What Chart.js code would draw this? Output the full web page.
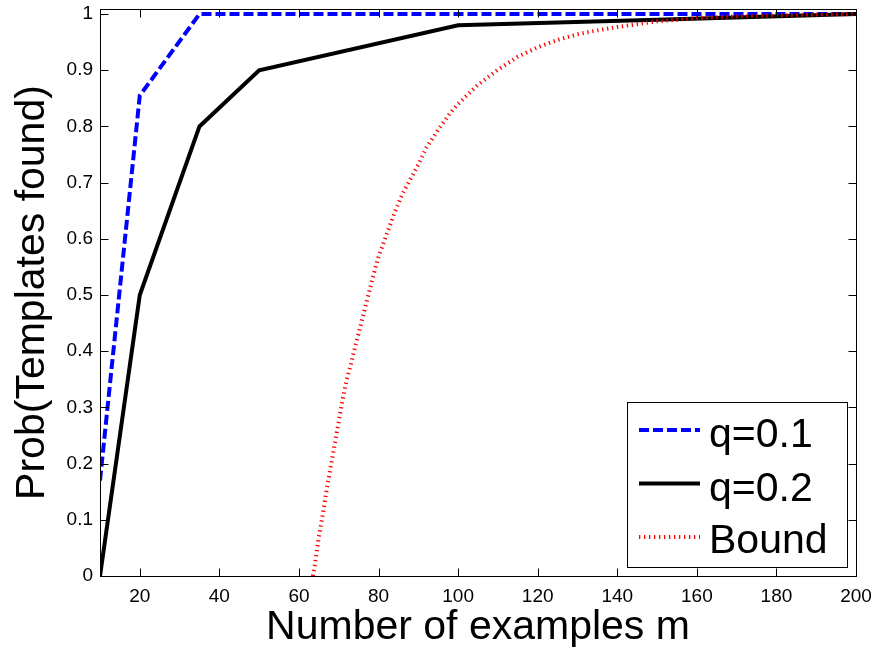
<!DOCTYPE html>
<html><head><meta charset="utf-8">
<script src="https://cdn.jsdelivr.net/npm/chart.js@4.4.0/dist/chart.umd.min.js"></script>
<style>html,body{margin:0;padding:0;background:#fff;overflow:hidden}#wrap{width:875px;height:657px}</style>
</head><body><div id="wrap"><canvas id="c" width="875" height="657"></canvas></div>
<script>
const xTicks = [20, 40, 60, 80, 100, 120, 140, 160, 180, 200];
const yTicks = [0, 0.1, 0.2, 0.3, 0.4, 0.5, 0.6, 0.7, 0.8, 0.9, 1];
const yTickLabels = ['0', '0.1', '0.2', '0.3', '0.4', '0.5', '0.6', '0.7', '0.8', '0.9', '1'];
const seriesNames = ['q=0.1', 'q=0.2', 'Bound'];
const xTitle = 'Number of examples m';
const yTitle = 'Prob(Templates found)';

const mQ1 = [10, 20, 35, 50, 100, 150, 200];
const pQ1 = [0.17, 0.855, 1, 1, 1, 1, 1];
const mQ2 = [10, 20, 35, 50, 100, 150, 200];
const pQ2 = [0, 0.5, 0.8, 0.9, 0.98, 0.99, 1.0];
const mBound = [63.5, 64, 65, 66, 67, 68, 69, 70, 71, 72, 73, 74, 75, 76, 77, 78, 79, 80, 82, 84, 86, 88, 90, 92, 95, 98, 100, 102, 105, 110, 115, 120, 125, 130, 135, 140, 145, 150, 155, 160, 170, 180, 190, 200];
const pBound = [0, 0.02, 0.07, 0.11, 0.155, 0.195, 0.235, 0.275, 0.315, 0.35, 0.375, 0.405, 0.432, 0.46, 0.488, 0.515, 0.543, 0.568, 0.607, 0.646, 0.68, 0.706, 0.732, 0.762, 0.794, 0.824, 0.84, 0.854, 0.874, 0.901, 0.924, 0.941, 0.954, 0.964, 0.971, 0.977, 0.982, 0.987, 0.99, 0.993, 0.996, 0.998, 0.999, 1.0];

const FONT = 'Liberation Sans, Arial, sans-serif';
const toXY = (xs, ys) => xs.map((x, i) => ({x: x, y: ys[i]}));

const framePlugin = {
  id: 'frame',
  afterDatasetsDraw(chart) {
    const {ctx, chartArea: a, scales: {x, y}} = chart;
    ctx.save();
    ctx.strokeStyle = '#000';
    ctx.lineWidth = 1;
    const L = Math.round(a.left) + 0.5, R = Math.round(a.right) + 0.5;
    const T = Math.round(a.top) + 0.5, B = Math.round(a.bottom) + 0.5;
    ctx.strokeRect(L, T, R - L, B - T);
    const tl = 8;
    ctx.beginPath();
    xTicks.forEach(v => {
      const px = Math.round(x.getPixelForValue(v)) + 0.5;
      ctx.moveTo(px, B); ctx.lineTo(px, B - tl);
      ctx.moveTo(px, T); ctx.lineTo(px, T + tl);
    });
    yTicks.forEach(v => {
      const py = Math.round(y.getPixelForValue(v)) + 0.5;
      ctx.moveTo(L, py); ctx.lineTo(L + tl, py);
      ctx.moveTo(R, py); ctx.lineTo(R - tl, py);
    });
    ctx.stroke();
    ctx.restore();
  }
};

const legendPlugin = {
  id: 'boxLegend',
  afterDraw(chart) {
    const {ctx} = chart;
    const bx = 627.5, by = 402.5, bw = 220, bh = 165;
    ctx.save();
    ctx.fillStyle = '#fff';
    ctx.fillRect(bx, by, bw, bh);
    ctx.strokeStyle = '#000';
    ctx.lineWidth = 1;
    ctx.strokeRect(bx, by, bw, bh);
    const rows = [430, 483.5, 537];
    const baselines = [447, 501, 553];
    chart.data.datasets.forEach((ds, i) => {
      ctx.beginPath();
      ctx.strokeStyle = ds.borderColor;
      ctx.lineWidth = ds.borderWidth;
      ctx.setLineDash(ds.borderDash || []);
      ctx.lineCap = 'butt';
      ctx.moveTo(639, rows[i]);
      ctx.lineTo(700, rows[i]);
      ctx.stroke();
      ctx.setLineDash([]);
      ctx.fillStyle = '#000';
      ctx.font = '41px ' + FONT;
      ctx.textBaseline = 'alphabetic';
      ctx.textAlign = 'left';
      ctx.fillText(ds.label, 709, baselines[i]);
    });
    ctx.restore();
  }
};

new Chart(document.getElementById('c'), {
  type: 'line',
  data: {
    datasets: [
      {label: seriesNames[0], data: toXY(mQ1, pQ1), borderColor: '#0000ff', borderWidth: 4, borderDash: [10, 4], pointRadius: 0, fill: false, tension: 0, order: 3},
      {label: seriesNames[1], data: toXY(mQ2, pQ2), borderColor: '#000000', borderWidth: 4, pointRadius: 0, fill: false, tension: 0, order: 2},
      {label: seriesNames[2], data: toXY(mBound, pBound), borderColor: '#ff0000', borderWidth: 4, borderDash: [1.3, 3.7], pointRadius: 0, fill: false, tension: 0, order: 1}
    ]
  },
  options: {
    responsive: false,
    animation: false,
    devicePixelRatio: 1,
    layout: {padding: {top: 9, right: 19, left: 0, bottom: 0}},
    plugins: {legend: {display: false}, tooltip: {enabled: false}},
    scales: {
      x: {
        type: 'linear', min: 10, max: 200,
        afterBuildTicks: s => { s.ticks = xTicks.map(v => ({value: v})); },
        afterFit: s => { s.height = 81; s.paddingLeft = 0; s.paddingRight = 0; },
        grid: {display: false, drawTicks: false},
        border: {display: false},
        ticks: {color: '#000', font: {family: FONT, size: 19}, padding: 9, autoSkip: false, maxRotation: 0,
          callback: (v) => String(v)},
        title: {display: true, text: xTitle, color: '#000', font: {family: FONT, size: 41}, padding: {top: 0, bottom: 5}}
      },
      y: {
        type: 'linear', min: 0, max: 1.009,
        afterBuildTicks: s => { s.ticks = yTicks.map(v => ({value: v})); },
        afterFit: s => { s.width = 100; s.paddingTop = 0; s.paddingBottom = 0; },
        grid: {display: false, drawTicks: false},
        border: {display: false},
        ticks: {color: '#000', font: {family: FONT, size: 19}, padding: 7, autoSkip: false,
          callback: (v, i) => yTickLabels[i]},
        title: {display: true, text: yTitle, color: '#000', font: {family: FONT, size: 41}, padding: {top: 8, bottom: 0}}
      }
    }
  },
  plugins: [framePlugin, legendPlugin]
});
</script>
</body></html>
